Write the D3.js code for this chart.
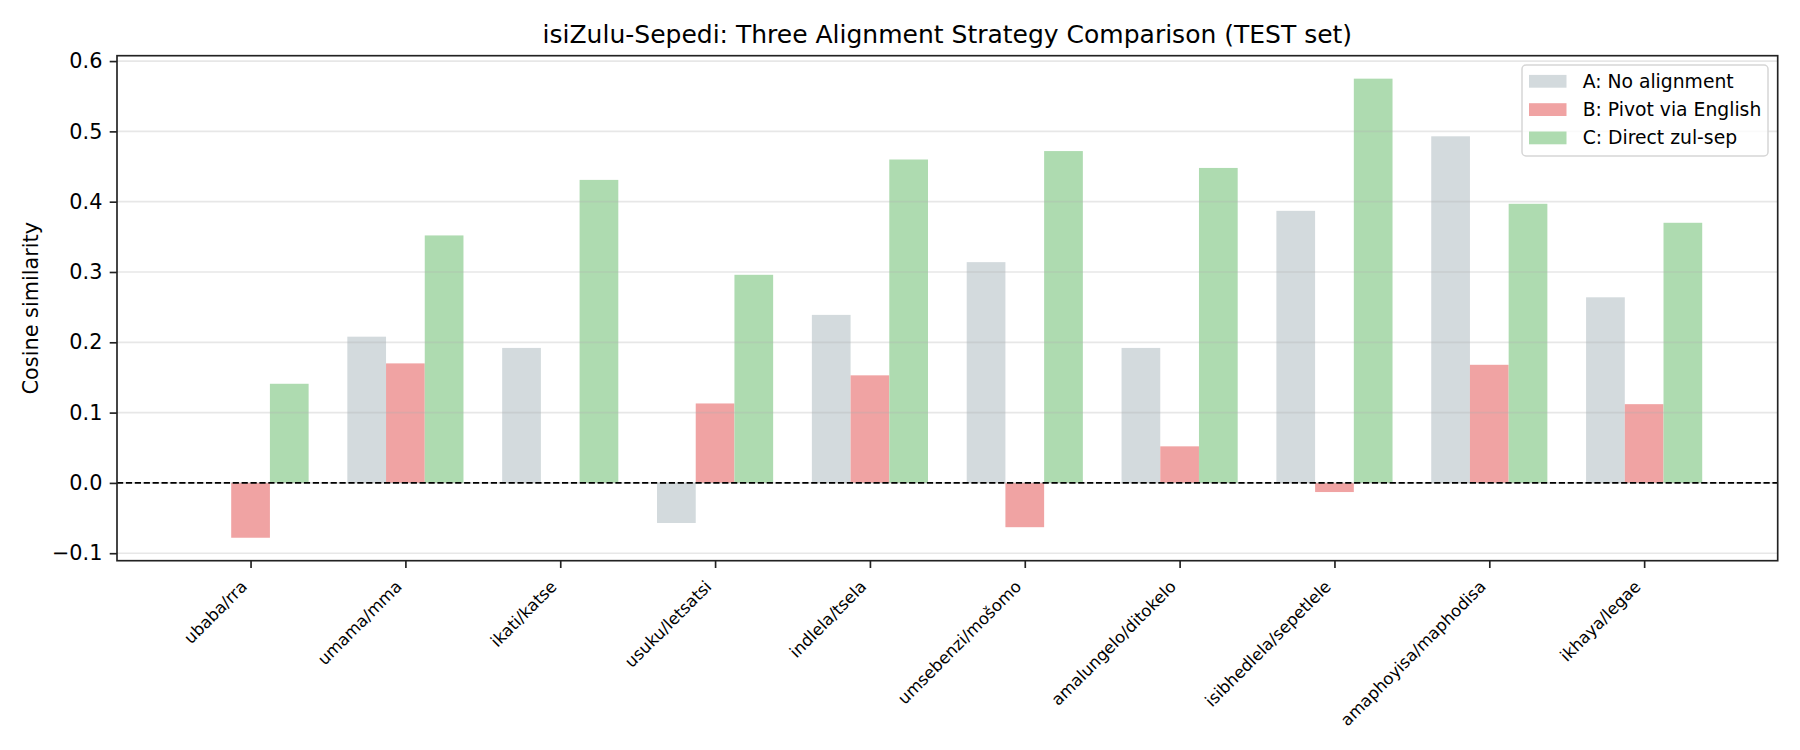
<!DOCTYPE html>
<html>
<head>
<meta charset="utf-8">
<script src="https://cdn.jsdelivr.net/npm/d3@7"></script>
<style>
  body { margin: 0; background: #fff; }
  text { font-family: "DejaVu Sans", sans-serif; fill: #000; }
</style>
</head>
<body>
<div id="chart"></div>
<script>
// word pairs (isiZulu / Sepedi)
var pairs = ["ubaba/rra", "umama/mma", "ikati/katse", "usuku/letsatsi", "indlela/tsela",
             "umsebenzi/mošomo", "amalungelo/ditokelo", "isibhedlela/sepetlele",
             "amaphoyisa/maphodisa", "ikhaya/legae"];

// cosine similarity per strategy
var noAlign  = [0.000, 0.208, 0.192, -0.057, 0.239, 0.314, 0.192, 0.387, 0.493, 0.264];
var pivotEn  = [-0.078, 0.170, 0.000, 0.113, 0.153, -0.063, 0.052, -0.013, 0.168, 0.112];
var directZS = [0.141, 0.352, 0.431, 0.296, 0.460, 0.472, 0.448, 0.575, 0.397, 0.370];

var seriesNames = ["A: No alignment", "B: Pivot via English", "C: Direct zul-sep"];
var yTicks = [-0.1, 0.0, 0.1, 0.2, 0.3, 0.4, 0.5, 0.6];

var colors = ["#d3dadd", "#f0a3a3", "#aedbb0"];
var series = [noAlign, pivotEn, directZS];

// set the dimensions and margins of the graph
var W = 1800, H = 750;
var margin = {top: 55.7, right: 22.3, bottom: 189.3, left: 117},
    width = W - margin.left - margin.right,
    height = H - margin.top - margin.bottom;

var svg = d3.select("#chart")
  .append("svg")
    .attr("width", W)
    .attr("height", H);

var g = svg.append("g")
    .attr("transform", "translate(" + margin.left + "," + margin.top + ")");

var barW = 0.25;

// X scale in category index units (bars span -0.375 .. n-1+0.375, plus 5% margins)
var xmin = -1.5 * barW, xmax = pairs.length - 1 + 1.5 * barW;
var xpad = 0.05 * (xmax - xmin);
var x = d3.scaleLinear()
  .domain([xmin - xpad, xmax + xpad])
  .range([0, width]);

// Y scale with 5% margins around data
var allVals = noAlign.concat(pivotEn, directZS);
var ymin = d3.min(allVals), ymax = d3.max(allVals);
var ypad = 0.05 * (ymax - ymin);
var y = d3.scaleLinear()
  .domain([ymin - ypad, ymax + ypad])
  .range([height, 0]);

// bars
series.forEach(function(vals, s) {
  g.append("g")
    .selectAll("rect")
    .data(vals)
    .enter()
    .append("rect")
      .attr("x", function(d, i) { return x(i + (s - 1) * barW - barW / 2); })
      .attr("width", function(d, i) { return x(i + (s - 1) * barW + barW / 2) - x(i + (s - 1) * barW - barW / 2); })
      .attr("y", function(d) { return y(Math.max(0, d)); })
      .attr("height", function(d) { return Math.abs(y(d) - y(0)); })
      .attr("fill", colors[s]);
});

// horizontal grid (drawn above bars, faint)
g.append("g")
  .selectAll("line")
  .data(yTicks)
  .enter()
  .append("line")
    .attr("x1", 0).attr("x2", width)
    .attr("y1", function(d) { return y(d); })
    .attr("y2", function(d) { return y(d); })
    .attr("stroke", "#b0b0b0")
    .attr("stroke-opacity", 0.3)
    .attr("stroke-width", 1.67);

// zero line
g.append("line")
  .attr("x1", 0).attr("x2", width)
  .attr("y1", y(0)).attr("y2", y(0))
  .attr("stroke", "#000")
  .attr("stroke-width", 1.67)
  .attr("stroke-dasharray", "6.2,2.7");

// Y axis
var yAxis = g.append("g")
  .call(d3.axisLeft(y).tickValues(yTicks).tickFormat(d3.format(".1f")).tickSize(7.3).tickPadding(7.3));
yAxis.select(".domain").remove();
yAxis.selectAll(".tick line").attr("stroke", "#222").attr("stroke-width", 1.67);
yAxis.selectAll(".tick text")
  .style("font-size", "20.8px")
  .style("font-family", "DejaVu Sans, sans-serif")
  .attr("fill", "#000");

// X axis
var xAxis = g.append("g")
  .attr("transform", "translate(0," + height + ")")
  .call(d3.axisBottom(x).tickValues(d3.range(pairs.length)).tickFormat(function(i) { return pairs[i]; }).tickSize(7.3));
xAxis.select(".domain").remove();
xAxis.selectAll(".tick line").attr("stroke", "#222").attr("stroke-width", 1.67);
xAxis.selectAll(".tick text")
  .style("font-size", "16.5px")
  .style("font-family", "DejaVu Sans, sans-serif")
  .attr("fill", "#000")
  .attr("text-anchor", "end")
  .attr("y", 0).attr("dy", 0)
  .attr("transform", "translate(-3,27) rotate(-45)");

// frame
g.append("rect")
  .attr("x", 0).attr("y", 0)
  .attr("width", width).attr("height", height)
  .attr("fill", "none")
  .attr("stroke", "#222")
  .attr("stroke-width", 1.67);

// title
svg.append("text")
  .attr("x", margin.left + width / 2)
  .attr("y", 43)
  .attr("text-anchor", "middle")
  .style("font-size", "25px")
  .text("isiZulu-Sepedi: Three Alignment Strategy Comparison (TEST set)");

// y label
svg.append("text")
  .attr("transform", "translate(38," + (margin.top + height / 2) + ") rotate(-90)")
  .attr("text-anchor", "middle")
  .style("font-size", "20.8px")
  .text("Cosine similarity");

// legend
var lg = svg.append("g").attr("transform", "translate(1522,65)");
lg.append("rect")
  .attr("width", 246).attr("height", 91)
  .attr("rx", 4).attr("ry", 4)
  .attr("fill", "#fff").attr("fill-opacity", 0.8)
  .attr("stroke", "#d6d6d6").attr("stroke-width", 1.5);
seriesNames.forEach(function(name, i) {
  var cy = 16.3 + i * 28.3;
  lg.append("rect")
    .attr("x", 7).attr("y", cy - 6.4)
    .attr("width", 37.5).attr("height", 12.8)
    .attr("fill", colors[i]);
  lg.append("text")
    .attr("x", 60.7).attr("y", cy)
    .attr("dy", "0.35em")
    .style("font-size", "18.75px")
    .text(name);
});
</script>
</body>
</html>
